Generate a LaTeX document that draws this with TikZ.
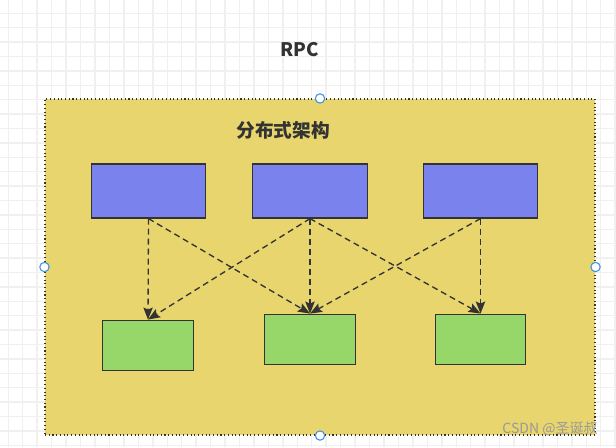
\documentclass[tikz,border=0pt]{standalone}
\usepackage{fontspec}
\setmainfont{Noto Sans CJK SC}
\usetikzlibrary{arrows.meta}

\definecolor{framefill}{RGB}{232,213,110}
\definecolor{serverblue}{RGB}{122,131,237}
\definecolor{clientgreen}{RGB}{151,215,106}
\definecolor{linegray}{RGB}{51,51,51}
\definecolor{handleblue}{RGB}{60,145,230}
\definecolor{gridgray}{RGB}{240,240,240}

\tikzset{
  server/.style={rectangle, draw=linegray, line width=0.9pt, fill=serverblue, minimum width=86pt, minimum height=40.5pt, inner sep=0pt},
  client/.style={rectangle, draw=linegray, line width=0.9pt, fill=clientgreen, minimum width=68pt, minimum height=38pt, inner sep=0pt},
  call/.style={-{Stealth[length=9pt, width=7pt, inset=1.5pt]}, draw=linegray, line width=1pt, dash pattern=on 4.5pt off 3pt},
  handle/.style={circle, draw=handleblue, fill=white, line width=0.8pt, minimum size=7pt, inner sep=0pt}
}

\begin{document}
\begin{tikzpicture}[x=0.75pt, y=-0.75pt]

        \useasboundingbox (0,0) rectangle (616,447);
        \fill[white] (0,0) rectangle (616,447);

        % background grid
        \foreach \i in {0,...,42} {
            \draw[gridgray, line width=1.1pt] (8.3+14.45*\i, 0) -- (8.3+14.45*\i, 447);
        }
        \foreach \j in {0,...,30} {
            \draw[gridgray, line width=1.1pt] (0, 13.3+14.4*\j) -- (616, 13.3+14.4*\j);
        }

        % Define nodes (boxes)

        \node (title) at ( 300, 50 ) [text=linegray, font=\fontsize{14}{16}\selectfont\bfseries] {RPC};

        \node (frame) at ( 320, 267 ) [rectangle, draw=linegray, fill=framefill, line width=0.8pt, dotted, minimum width=412.5pt, minimum height=252pt, inner sep=0pt] {};

        \node (arch) at ( 283, 130 ) [text=linegray, font=\fontsize{14}{16}\selectfont\bfseries] {分布式架构};

        \node (s1) at ( 148.5, 191 ) [server] {};

        \node (s2) at ( 310, 191 ) [server] {};

        \node (s3) at ( 480.5, 191 ) [server] {};

        \node (c1) at ( 148, 345.5 ) [client] {};

        \node (c2) at ( 310, 339.5 ) [client] {};

        \node (c3) at ( 480.5, 339.5 ) [client] {};

        % selection handles on the frame

        \node (hn) at (frame.north) [handle] {};
        \node (hs) at (frame.south) [handle] {};
        \node (hw) at (frame.west) [handle] {};
        \node (he) at (frame.east) [handle] {};

        % Draw arrows between nodes

        \draw[call] (s1.south) -- (c1.north);

        \draw[call] (s1.south) -- (c2.north);

        \draw[call] (s2.south) -- (c1.north);

        \draw[call] (s2.south) -- (c2.north);

        \draw[call] (s2.south) -- (c3.north);

        \draw[call] (s3.south) -- (c2.north);

        \draw[call] (s3.south) -- (c3.north);

        \node (mark) at ( 550, 429 ) [text=gray!80, font=\fontsize{10.5}{12}\selectfont] {CSDN @圣诞叔};

    \end{tikzpicture}
\end{document}
